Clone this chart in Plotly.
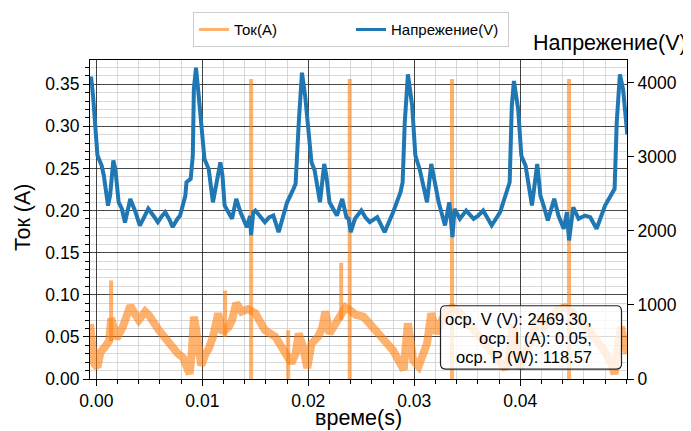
import plotly.graph_objects as go

# ---------------- data ----------------
volt_t = [-0.0006, -0.0005, -0.0003, -0.0001, 0.0001, 0.0005, 0.0007, 0.0011, 0.0013, 0.0016,
          0.0018, 0.0021, 0.0024, 0.0027, 0.0032, 0.0037, 0.0041, 0.0045, 0.0049, 0.0054,
          0.0058, 0.0062, 0.0065, 0.0069, 0.0072, 0.0076, 0.0079, 0.0084, 0.0085, 0.0089,
          0.0091, 0.0092, 0.0094, 0.0096, 0.0099, 0.0102, 0.0106, 0.0110, 0.0117, 0.0119,
          0.0121, 0.0128, 0.0132, 0.0136, 0.0142, 0.0145, 0.0146, 0.0148, 0.0150, 0.0155,
          0.0159, 0.0163, 0.0167, 0.0172, 0.0180, 0.0186, 0.0188, 0.0191, 0.0194, 0.0197,
          0.0200, 0.0203, 0.0206, 0.0211, 0.0215, 0.0217, 0.0220, 0.0227, 0.0232, 0.0236,
          0.0238, 0.0240, 0.0244, 0.0250, 0.0254, 0.0258, 0.0265, 0.0272, 0.0280, 0.0287,
          0.0289, 0.0291, 0.0294, 0.0298, 0.0301, 0.0305, 0.0312, 0.0316, 0.0320, 0.0323,
          0.0329, 0.0333, 0.0336, 0.0338, 0.0343, 0.0349, 0.0356, 0.0360, 0.0365, 0.0373,
          0.0381, 0.0387, 0.0390, 0.0392, 0.0394, 0.0398, 0.0401, 0.0405, 0.0411, 0.0416,
          0.0419, 0.0422, 0.0426, 0.0432, 0.0436, 0.0441, 0.0444, 0.0446, 0.0450, 0.0455,
          0.0461, 0.0466, 0.0472, 0.0480, 0.0485, 0.0489, 0.0491, 0.0494, 0.0497, 0.0501]
volt_v = [3950, 4080, 3800, 3300, 3020, 2880, 2750, 2340, 2480, 2950,
          2830, 2385, 2300, 2110, 2430, 2250, 2070, 2180, 2300, 2200,
          2116, 2200, 2250, 2150, 2050, 2150, 2206, 2475, 2655, 2700,
          3014, 3911, 4202, 3911, 3373, 2969, 2835, 2385, 2924, 2745,
          2341, 2162, 2431, 2251, 2049, 2200, 1940, 2250, 2273, 2180,
          2116, 2180, 2206, 1982, 2385, 2566, 2633, 3462, 4134, 3821,
          3373, 2924, 2812, 2385, 2902, 2745, 2385, 2206, 2431, 2180,
          2162, 1982, 2162, 2273, 2180, 2116, 2184, 1982, 2251, 2520,
          2655, 3462, 4112, 3686, 3014, 2835, 2385, 2902, 2610, 2385,
          2072, 2385, 1914, 2296, 2162, 2273, 2162, 2200, 2273, 2072,
          2251, 2520, 2655, 3686, 4022, 3642, 3014, 2879, 2341, 2902,
          2475, 2341, 2139, 2431, 2206, 2027, 2251, 1870, 2318, 2162,
          2206, 2184, 2027, 2341, 2475, 2566, 3462, 4112, 3911, 3300]

curr_t = [-0.0006, -0.0004, -0.0002, 0.0001, 0.0004, 0.0008, 0.0012, 0.0014, 0.0016, 0.0019,
          0.0025, 0.0029, 0.0032, 0.0036, 0.0040, 0.0046, 0.0050, 0.0059, 0.0068, 0.0077,
          0.0082, 0.0085, 0.0088, 0.0090, 0.0092, 0.0094, 0.0096, 0.0099, 0.0103, 0.0106,
          0.0110, 0.0115, 0.0119, 0.0125, 0.0128, 0.0132, 0.0137, 0.0143, 0.0150, 0.0159,
          0.0169, 0.0176, 0.0184, 0.0188, 0.0191, 0.0195, 0.0199, 0.0203, 0.0209, 0.0213,
          0.0216, 0.0220, 0.0224, 0.0228, 0.0235, 0.0239, 0.0245, 0.0252, 0.0265, 0.0280,
          0.0287, 0.0290, 0.0292, 0.0294, 0.0297, 0.0299, 0.0304, 0.0312, 0.0316, 0.0321,
          0.0326, 0.0331, 0.0336, 0.0342, 0.0350, 0.0360, 0.0370, 0.0380, 0.0386, 0.0390,
          0.0393, 0.0396, 0.0400, 0.0404, 0.0410, 0.0416, 0.0420, 0.0428, 0.0435, 0.0442,
          0.0448, 0.0460, 0.0470, 0.0480, 0.0486, 0.0489, 0.0492, 0.0495, 0.0498, 0.0501]
curr_i = [0.065, 0.035, 0.018, 0.014, 0.032, 0.038, 0.045, 0.072, 0.058, 0.048,
          0.062, 0.075, 0.087, 0.078, 0.070, 0.080, 0.075, 0.058, 0.042, 0.030,
          0.025, 0.018, 0.006, 0.030, 0.074, 0.060, 0.038, 0.016, 0.030, 0.036,
          0.050, 0.078, 0.055, 0.062, 0.070, 0.090, 0.080, 0.083, 0.078, 0.058,
          0.050, 0.034, 0.019, 0.030, 0.054, 0.038, 0.013, 0.042, 0.050, 0.060,
          0.080, 0.054, 0.062, 0.074, 0.085, 0.082, 0.076, 0.074, 0.054, 0.034,
          0.018, 0.011, 0.040, 0.066, 0.040, 0.022, 0.015, 0.042, 0.078, 0.054,
          0.070, 0.082, 0.085, 0.080, 0.068, 0.052, 0.038, 0.022, 0.012, 0.030,
          0.065, 0.040, 0.012, 0.030, 0.045, 0.075, 0.058, 0.070, 0.082, 0.085,
          0.080, 0.066, 0.050, 0.032, 0.018, 0.006, 0.040, 0.062, 0.045, 0.030]

# isolated current spikes: time, low value, high value
spike_t = [0.00139, 0.01215, 0.0146, 0.0181, 0.0231, 0.0239, 0.03356, 0.0446]
spike_lo = [0.045, 0.050, 0.0, 0.0, 0.070, 0.0, 0.0, 0.0]
spike_hi = [0.117, 0.105, 0.356, 0.058, 0.138, 0.356, 0.356, 0.356]

x_ticks = [0.00, 0.01, 0.02, 0.03, 0.04]
x_tick_text = ["0.00", "0.01", "0.02", "0.03", "0.04"]
stats_lines = ["оср. V (V): 2469.30,", "оср. I (A): 0.05,", "оср. P (W): 118.57"]

# ---------------- figure ----------------
# the page body adds an 8 px offset, so the figure is laid out in screen px minus 8
OFF = 8
W, H = 691 - OFF, 431 - OFF
L, R, T, B = 90 - OFF, 627 - OFF, 59.5 - OFF, 379.5 - OFF   # plot area in figure px
FONT = "Liberation Sans, Arial, Helvetica, sans-serif"
ORANGE = "#ff7f0e"
BLUE = "#1f77b4"

def px2paper(px, py):
    """screen px (reference coordinates) -> paper coordinates"""
    px -= OFF
    py -= OFF
    return (px - L) / (R - L), (B - py) / (B - T)

sx, sy = [], []
for t, lo, hi in zip(spike_t, spike_lo, spike_hi):
    sx += [t, t, None]
    sy += [lo, hi, None]

fig = go.Figure()
fig.add_trace(go.Scatter(x=curr_t, y=curr_i, mode="lines", name="Ток(А)", showlegend=False,
                         line=dict(color=ORANGE, width=8), opacity=0.6,
                         legendgroup="i", yaxis="y"))
fig.add_trace(go.Scatter(x=sx, y=sy, mode="lines", name="Ток(А)", showlegend=False,
                         line=dict(color=ORANGE, width=4), opacity=0.6,
                         legendgroup="i", yaxis="y", connectgaps=False))
fig.add_trace(go.Scatter(x=volt_t, y=volt_v, mode="lines", name="Напрежение(V)",
                         showlegend=False, legendgroup="v",
                         line=dict(color=BLUE, width=4), yaxis="y2"))
# legend entries (thinner sample lines, as in the reference legend)
fig.add_trace(go.Scatter(x=[None], y=[None], mode="lines", name="Ток(А)", legendgroup="i",
                         line=dict(color=ORANGE, width=3), opacity=0.6, yaxis="y",
                         legendrank=1))
fig.add_trace(go.Scatter(x=[None], y=[None], mode="lines", name="Напрежение(V)",
                         legendgroup="v", line=dict(color=BLUE, width=3), yaxis="y2",
                         legendrank=2))

major_grid = "rgba(40,40,40,0.85)"
minor_grid = "rgba(200,200,200,0.7)"

fig.update_layout(
    width=W, height=H,
    margin=dict(l=L, r=W - R, t=T, b=H - B, pad=0, autoexpand=False),
    paper_bgcolor="white", plot_bgcolor="white",
    font=dict(family=FONT, size=17.5, color="black"),
    showlegend=True,
    legend=dict(orientation="h", x=px2paper(193, 0)[0], xanchor="left",
                y=px2paper(0, 11.5)[1], yanchor="top",
                bordercolor="#cccccc", borderwidth=1, bgcolor="white",
                font=dict(size=15), entrywidth=112, tracegroupgap=0,
                itemwidth=30, traceorder="normal"),
    xaxis=dict(range=[-0.0006, 0.05007], tickvals=x_ticks, ticktext=x_tick_text,
               showline=True, linecolor="black", linewidth=1.2, mirror=True,
               ticks="outside", ticklen=6, tickwidth=1.2, tickcolor="black",
               showgrid=True, gridcolor=major_grid, gridwidth=1.2, zeroline=False,
               minor=dict(dtick=0.002, tick0=0, ticks="outside", ticklen=3.5,
                          tickcolor="black", showgrid=True, gridcolor=minor_grid, gridwidth=1)),
    yaxis=dict(range=[0, 0.3787], dtick=0.05, tick0=0, tickformat=".2f",
               showline=True, linecolor="black", linewidth=1.2,
               ticks="outside", ticklen=6, tickwidth=1.2, tickcolor="black",
               showgrid=True, gridcolor=major_grid, gridwidth=1.2, zeroline=False,
               minor=dict(dtick=0.01, tick0=0, ticks="outside", ticklen=3.5,
                          tickcolor="black", showgrid=True, gridcolor=minor_grid, gridwidth=1)),
    yaxis2=dict(range=[0, 4305], tickvals=[0, 1000, 2000, 3000, 4000],
                overlaying="y", side="right", anchor="x",
                showline=True, linecolor="black", linewidth=1.2,
                ticks="outside", ticklen=6, tickwidth=1.2, tickcolor="black",
                showgrid=False, zeroline=False),
)

annos = []
# axis titles
x, y = px2paper(23, 218)
annos.append(dict(text="Ток (А)", x=x, y=y, xref="paper", yref="paper", showarrow=False,
                  textangle=-90, font=dict(size=21.5), xanchor="center", yanchor="middle"))
x, y = px2paper(358.5, 419)
annos.append(dict(text="време(s)", x=x, y=y, xref="paper", yref="paper", showarrow=False,
                  font=dict(size=21.5), xanchor="center", yanchor="middle"))
x, y = px2paper(689, 42)
annos.append(dict(text="Напрежение(V)", x=x, y=y, xref="paper", yref="paper", showarrow=False,
                  font=dict(size=21.5), xanchor="right", yanchor="middle"))
# statistics box text
for line, py in zip(stats_lines, [319.5, 338.3, 357.3]):
    x, y = px2paper(594, py)
    annos.append(dict(text=line, x=x, y=y, xref="paper", yref="paper", showarrow=False,
                      font=dict(size=16.5), xanchor="right", yanchor="middle"))
fig.update_layout(annotations=annos)

# rounded statistics box
bx0, by0, bx1, by1, r = 440.5, 306, 621.5, 369.5, 5
def P(px, py):
    a, b = px2paper(px, py)
    return f"{a:.5f},{b:.5f}"
path = (f"M {P(bx0 + r, by0)} L {P(bx1 - r, by0)} Q {P(bx1, by0)} {P(bx1, by0 + r)} "
        f"L {P(bx1, by1 - r)} Q {P(bx1, by1)} {P(bx1 - r, by1)} "
        f"L {P(bx0 + r, by1)} Q {P(bx0, by1)} {P(bx0, by1 - r)} "
        f"L {P(bx0, by0 + r)} Q {P(bx0, by0)} {P(bx0 + r, by0)} Z")
fig.add_shape(type="path", path=path, xref="paper", yref="paper", layer="above",
              line=dict(color="#222222", width=1.2), fillcolor="rgba(255,255,255,0.8)")

fig.write_html("out.html")
